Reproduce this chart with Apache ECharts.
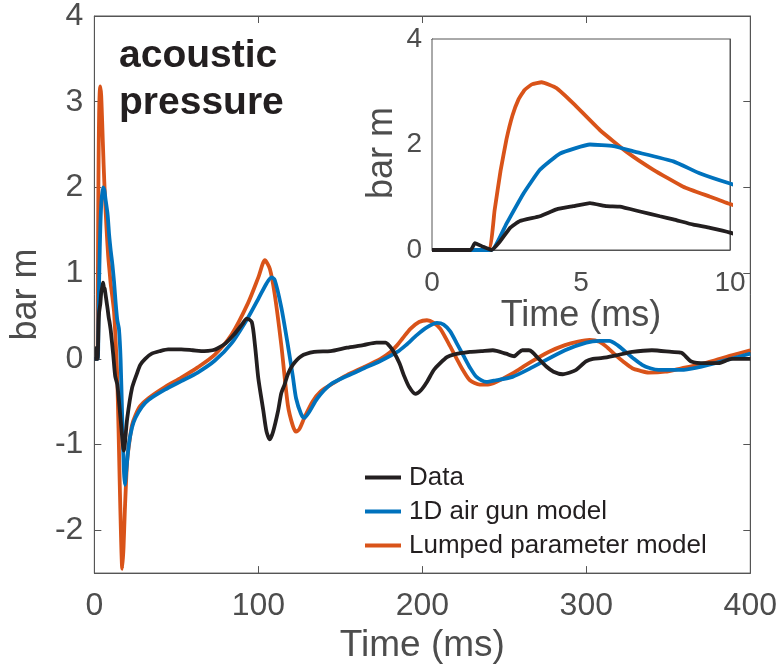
<!DOCTYPE html>
<html>
<head>
<meta charset="utf-8">
<script src="https://cdn.jsdelivr.net/npm/echarts@6/dist/echarts.min.js"></script>
<style>html,body{margin:0;padding:0;background:#fff}#c{width:780px;height:669px}</style>
</head>
<body>
<div id="c"></div>
<script>
// ---- data (time in ms, pressure in bar m) ----
const dataT = [0,1.3,1.44,1.72,2.0,2.28,2.62,2.95,3.62,4.18,4.74,5.3,5.86,6.3,6.98,7.65,8.1,8.77,9.33,10,11.5,12.7,14,16,18,20,23,26,28,31,35,40,45,53,60,67,72,75,80,85,90,93,96,98,100,103,105,107,109,112,114,116,118,121,126,134,144,154,164,172,177.5,180,182.6,186,188.7,192,195.8,199,202.8,207,210.9,215,219,229,236,243,251,256,258,261,265,267,271,275.6,280,285.6,290,293.7,299.8,304,309.9,318,328,340,352,358,364,372.5,380.6,388.7,395,400];
const dataP = [0,0,0.13,0.06,0.0,0.16,0.42,0.55,0.64,0.77,0.83,0.89,0.83,0.82,0.73,0.64,0.58,0.48,0.42,0.33,0.05,-0.2,-0.3,-0.7,-1.07,-0.7,-0.34,-0.17,-0.07,0.0,0.06,0.09,0.11,0.11,0.1,0.09,0.1,0.12,0.18,0.28,0.4,0.47,0.43,0.15,-0.23,-0.6,-0.85,-0.94,-0.85,-0.61,-0.4,-0.3,-0.18,-0.07,0.03,0.08,0.09,0.13,0.16,0.19,0.19,0.15,0.08,-0.05,-0.19,-0.33,-0.41,-0.37,-0.27,-0.13,-0.05,0.02,0.05,0.08,0.09,0.1,0.06,0.03,0.06,0.1,0.1,0.08,0.0,-0.09,-0.15,-0.18,-0.16,-0.13,-0.03,0.0,0.01,0.04,0.08,0.1,0.08,0.07,-0.03,-0.05,-0.05,0.0,0.0,0.0];

const gunT = [0,2.0,2.5,3.07,3.62,4.3,5.3,6.09,6.76,8.1,9.0,10,11,12,13,14,15,16,17,18,18.6,19.5,21,23,25,29,33,43,53,63,73.5,83.6,93.7,100,105,108,110,114,118,121,123,126,128,131,136,144,154,164.5,175,184.7,190,196.8,203,208.9,213,217,221,225,229,233,239,245,255,265,287,300,308,314,319,324,329,334,339,344,358,368,378.6,390,400];
const gunP = [0,0,0.5,1.07,1.52,1.83,2.0,1.97,1.87,1.68,1.45,1.26,1.1,0.9,0.65,0.45,0.35,0.0,-0.7,-1.3,-1.47,-1.3,-1.0,-0.8,-0.69,-0.56,-0.48,-0.36,-0.26,-0.16,-0.02,0.18,0.48,0.7,0.88,0.95,0.92,0.6,0.16,-0.2,-0.46,-0.64,-0.69,-0.62,-0.46,-0.3,-0.2,-0.11,-0.02,0.08,0.16,0.28,0.37,0.42,0.4,0.32,0.18,0.04,-0.1,-0.21,-0.27,-0.25,-0.21,-0.12,0.1,0.19,0.21,0.21,0.16,0.08,0.0,-0.07,-0.11,-0.13,-0.13,-0.1,-0.05,0.01,0.06];

const lumpT = [0,1.89,2.1,2.3,2.5,2.7,2.9,3.1,3.35,3.68,4.18,4.74,5.64,6.53,7.43,8.43,9.33,10,11,12,13,14,15.4,16.3,17,17.8,18.6,20,21.5,23,25,28,33,43,53,63,73.5,83.6,93.7,100,104,107,110,114,118,121,123,125,128,133,138,146,154,164,174.5,180,184.7,188,192.7,198,202.8,207,211,216,221,225,229,235,240,245,255,265,277,287,295,302,308,313,318,323,328,333,338,348,358,368,378,388.7,400];
const lumpP = [0,0,0.75,1.5,2.1,2.55,2.85,3.03,3.14,3.18,3.07,2.78,2.27,1.86,1.52,1.2,1.01,0.87,0.72,0.55,0.2,-0.23,-1.39,-2.1,-2.45,-2.2,-1.77,-1.19,-0.95,-0.77,-0.66,-0.55,-0.46,-0.33,-0.22,-0.1,0.05,0.28,0.65,0.95,1.15,1.05,0.75,0.16,-0.54,-0.78,-0.85,-0.82,-0.69,-0.5,-0.38,-0.28,-0.19,-0.1,0.0,0.07,0.16,0.24,0.35,0.43,0.45,0.42,0.35,0.18,0.0,-0.14,-0.25,-0.3,-0.3,-0.27,-0.17,-0.05,0.08,0.16,0.2,0.22,0.2,0.13,0.04,-0.04,-0.11,-0.14,-0.16,-0.15,-0.11,-0.07,-0.02,0.04,0.1];

const seriesNames = ['Data', '1D air gun model', 'Lumped parameter model'];
const xTicks = [0, 100, 200, 300, 400];
const yTicks = [-2, -1, 0, 1, 2, 3, 4];
const insetXTicks = [0, 5, 10];
const insetYTicks = [0, 2, 4];
const titleLines = ['acoustic', 'pressure'];
const xName = 'Time (ms)';
const yName = 'bar m';

// ---- build ----
const zip = (t, p) => t.map((x, i) => [x, p[i]]);
const FONT = '"Liberation Sans", Arial, Helvetica, sans-serif';
const AX = '#555555';
const TXT = '#4d4d4d';
const colors = ['#231f20', '#0072BD', '#D95319'];
const widths = [3.8, 3.8, 3.8];
const zs = [5, 4, 3];
const sets = [zip(dataT, dataP), zip(gunT, gunP), zip(lumpT, lumpP)];

function axis(opts) {
  const ticks = opts.ticks;
  return {
    type: 'value',
    min: opts.min, max: opts.max,
    gridIndex: opts.grid,
    position: opts.position,
    axisLine: { show: true, onZero: false, lineStyle: { color: AX, width: 1 } },
    axisTick: { show: true, inside: true, length: opts.tickLen, customValues: ticks, lineStyle: { color: AX, width: 1 } },
    axisLabel: { show: opts.labels, customValues: ticks, margin: opts.margin, color: TXT, fontFamily: FONT, fontSize: opts.fontSize },
    splitLine: { show: false },
    name: opts.labels ? opts.name : '',
    nameLocation: 'middle',
    nameGap: opts.nameGap,
    nameTextStyle: { color: TXT, fontFamily: FONT, fontSize: opts.nameSize, padding: opts.namePad || 0 }
  };
}

const xAxes = [
  axis({ grid: 0, position: 'bottom', min: 0, max: 400, ticks: xTicks, labels: true, tickLen: 7, margin: 17, fontSize: 32, name: xName, nameGap: 52, nameSize: 37 }),
  axis({ grid: 0, position: 'top', min: 0, max: 400, ticks: xTicks, labels: false, tickLen: 7 }),
  axis({ grid: 1, position: 'bottom', min: 0, max: 10, ticks: insetXTicks, labels: true, tickLen: 5, margin: 19, fontSize: 28, name: xName, nameGap: 36, nameSize: 36 }),
  axis({ grid: 1, position: 'top', min: 0, max: 10, ticks: insetXTicks, labels: false, tickLen: 5 })
];
const yAxes = [
  axis({ grid: 0, position: 'left', min: -2.5, max: 4, ticks: yTicks, labels: true, tickLen: 7, margin: 11, fontSize: 32, name: yName, nameGap: 46, nameSize: 36 }),
  axis({ grid: 0, position: 'right', min: -2.5, max: 4, ticks: yTicks, labels: false, tickLen: 7 }),
  axis({ grid: 1, position: 'left', min: 0, max: 4, ticks: insetYTicks, labels: true, tickLen: 5, margin: 10, fontSize: 28, name: yName, nameGap: 32, nameSize: 36, namePad: [0, 17, 0, 0] }),
  axis({ grid: 1, position: 'right', min: 0, max: 4, ticks: insetYTicks, labels: false, tickLen: 5 })
];

const series = [];
for (let g = 0; g < 2; g++) {
  for (let i = 0; i < 3; i++) {
    series.push({
      name: seriesNames[i],
      type: 'line',
      xAxisIndex: g * 2,
      yAxisIndex: g * 2,
      data: sets[i],
      showSymbol: false,
      symbol: 'none',
      smooth: g === 0 ? 0.25 : 0.12,
      clip: true,
      z: zs[i] + g * 10,
      lineStyle: { color: colors[i], width: widths[i] },
      itemStyle: { color: colors[i] },
      animation: false
    });
  }
}

const chart = echarts.init(document.getElementById('c'), null, { renderer: 'canvas' });
chart.setOption({
  animation: false,
  backgroundColor: '#ffffff',
  title: {
    text: titleLines.join('\n'),
    left: 114, top: 28,
    textStyle: { fontFamily: FONT, fontWeight: 'bold', fontSize: 39, lineHeight: 47, color: '#231f20' }
  },
  legend: {
    data: seriesNames,
    orient: 'vertical',
    left: 360, top: 459,
    itemWidth: 36, itemHeight: 4, itemGap: 7,
    icon: 'rect',
    textStyle: { fontFamily: FONT, fontSize: 26, lineHeight: 27, color: '#231f20', padding: [0, 0, 0, 3] },
    backgroundColor: 'transparent',
    selectedMode: false
  },
  grid: [
    { left: 92, top: 16, right: 28, bottom: 94, show: true, borderColor: AX, borderWidth: 1, backgroundColor: '#fff', containLabel: false },
    { left: 432, top: 39, right: 50, bottom: 419, show: true, borderColor: AX, borderWidth: 1, backgroundColor: '#fff', containLabel: false, z: 10 }
  ],
  xAxis: xAxes,
  yAxis: yAxes,
  series: series
});
</script>
</body>
</html>
